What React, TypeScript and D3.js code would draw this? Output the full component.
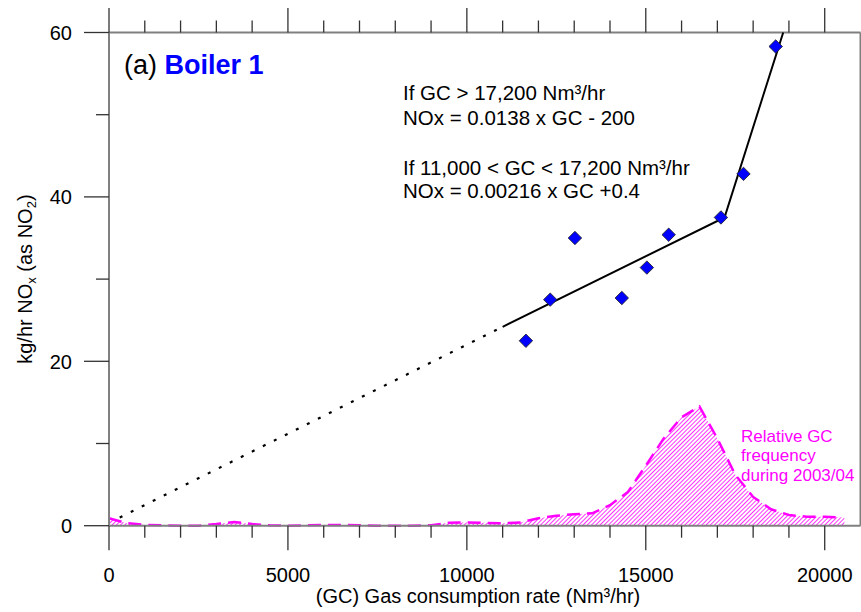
import React, { useEffect, useRef } from "react";
import * as d3 from "d3";

// measured points: gas consumption (Nm3/hr) vs NOx (kg/hr)
const gasRate = [11650, 12330, 13020, 14330, 15030, 15640, 17100, 17730, 18630];
const noxRate = [22.5, 27.5, 35.0, 27.7, 31.4, 35.4, 37.5, 42.8, 58.3];

// piecewise fit (solid) and its extrapolation (dotted)
const fitGc = [11000, 17200, 18840];
const fitNox = [24.2, 37.5, 60];
const extGc = [300, 11000];
const extNox = [1.0, 24.2];

// relative GC frequency during 2003/04
const freqGc = [
  0, 500, 1000, 1500, 2000, 2500, 3000, 3500, 4000, 4500, 5000, 5500, 6000, 6500,
  7000, 7500, 8000, 8500, 9000, 9500, 10000, 10500, 11000, 11500, 12000, 12500,
  13000, 13500, 14000, 14500, 15000, 15500, 16000, 16500, 17000, 17500, 18000,
  18500, 19000, 19500, 20000, 20500, 20550,
];
const freqVal = [
  0.9, 0.3, 0.1, 0.05, 0, 0, 0.2, 0.45, 0.2, 0.05, 0, 0.05, 0.1, 0.1, 0.05, 0, 0,
  0, 0.05, 0.35, 0.4, 0.35, 0.3, 0.4, 0.9, 1.2, 1.4, 1.5, 2.5, 4.1, 7.3, 10.6,
  13.2, 14.5, 10.6, 6.2, 3.5, 2.0, 1.3, 1.1, 1.1, 1.0, 1.0,
];

const xTicks = [0, 5000, 10000, 15000, 20000];
const yTicks = [0, 20, 40, 60];

const eqLines = [
  "If GC > 17,200 Nm\u00b3/hr",
  "NOx = 0.0138 x GC - 200",
  "If 11,000 < GC < 17,200 Nm\u00b3/hr",
  "NOx = 0.00216 x GC +0.4",
];
const freqLabel = ["Relative GC", "frequency", "during 2003/04"];

const FONT = "'Liberation Sans', Arial, Helvetica, sans-serif";

const App = () => {
  const ref = useRef<SVGSVGElement>(null);

  useEffect(() => {
    if (!ref.current) return;
    const svg = d3.select(ref.current);
    svg.selectAll("*").remove();

    const x = d3.scaleLinear().domain([0, 21000]).range([109, 860.5]);
    const y = d3.scaleLinear().domain([0, 60]).range([525.7, 32.5]);

    // hatch pattern for the frequency area
    const pat = svg
      .append("defs")
      .append("pattern")
      .attr("id", "hatch")
      .attr("patternUnits", "userSpaceOnUse")
      .attr("width", 3)
      .attr("height", 3)
      .attr("patternTransform", "rotate(45)");
    pat
      .append("line")
      .attr("x1", 0.5)
      .attr("y1", 0)
      .attr("x2", 0.5)
      .attr("y2", 3)
      .attr("stroke", "#ff00ff")
      .attr("stroke-width", 0.8);

    // === frequency area ===
    const freq: [number, number][] = freqGc.map((g, i) => [g, freqVal[i]]);
    svg
      .append("path")
      .datum(freq)
      .attr(
        "d",
        d3
          .area<[number, number]>()
          .x((d) => x(d[0]))
          .y0(y(0))
          .y1((d) => y(d[1]))
      )
      .attr("fill", "url(#hatch)");
    svg
      .append("path")
      .datum(freq.slice(0, -1))
      .attr(
        "d",
        d3
          .line<[number, number]>()
          .x((d) => x(d[0]))
          .y((d) => y(d[1]))
      )
      .attr("fill", "none")
      .attr("stroke", "#ff00ff")
      .attr("stroke-width", 2.5)
      .attr("stroke-dasharray", "13,7");

    // === axes frame ===
    const frame = svg.append("g").attr("stroke", "#808080").attr("stroke-width", 2);
    frame.append("line").attr("x1", x(0)).attr("x2", x(21000)).attr("y1", y(0)).attr("y2", y(0));
    frame.append("line").attr("x1", x(0)).attr("x2", x(21000)).attr("y1", y(60)).attr("y2", y(60));
    frame.append("line").attr("x1", x(0)).attr("x2", x(0)).attr("y1", y(60)).attr("y2", y(0));
    frame.append("line").attr("x1", x(21000)).attr("x2", x(21000)).attr("y1", y(60)).attr("y2", y(0));

    const ticks = svg.append("g").attr("stroke", "#333").attr("stroke-width", 1.3);
    d3.range(0, 20001, 1000).forEach((v) => {
      const major = v % 5000 === 0;
      ticks.append("line").attr("x1", x(v)).attr("x2", x(v)).attr("y1", y(0)).attr("y2", y(0) + (major ? 24.5 : 12));
      ticks.append("line").attr("x1", x(v)).attr("x2", x(v)).attr("y1", y(60)).attr("y2", y(60) - (major ? 24.5 : 12));
    });
    d3.range(0, 61, 10).forEach((v) => {
      const major = v % 20 === 0;
      ticks.append("line").attr("x1", x(0)).attr("x2", x(0) - (major ? 25 : 13)).attr("y1", y(v)).attr("y2", y(v));
    });

    svg
      .append("g")
      .selectAll("text")
      .data(xTicks)
      .join("text")
      .attr("x", (d) => x(d))
      .attr("y", 582)
      .attr("text-anchor", "middle")
      .style("font-size", "20px")
      .text((d) => d);

    svg
      .append("g")
      .selectAll("text")
      .data(yTicks)
      .join("text")
      .attr("x", 72)
      .attr("y", (d) => y(d))
      .attr("dy", "0.36em")
      .attr("text-anchor", "end")
      .style("font-size", "20px")
      .text((d) => d);

    svg
      .append("text")
      .attr("x", 478)
      .attr("y", 603)
      .attr("text-anchor", "middle")
      .style("font-size", "20px")
      .text("(GC) Gas consumption rate (Nm\u00b3/hr)");

    const yt = svg
      .append("text")
      .attr("transform", `translate(32,${(y(0) + y(60)) / 2}) rotate(-90)`)
      .attr("text-anchor", "middle")
      .style("font-size", "20px");
    yt.append("tspan").text("kg/hr NO");
    yt.append("tspan").attr("dy", 4).style("font-size", "13px").text("x");
    yt.append("tspan").attr("dy", -4).text(" (as NO");
    yt.append("tspan").attr("dy", 4).style("font-size", "13px").text("2");
    yt.append("tspan").attr("dy", -4).text(")");

    // === fit lines ===
    const ln = d3
      .line<[number, number]>()
      .x((d) => x(d[0]))
      .y((d) => y(d[1]));
    svg
      .append("path")
      .datum(extGc.map((g, i) => [g, extNox[i]] as [number, number]))
      .attr("d", ln)
      .attr("fill", "none")
      .attr("stroke", "#000")
      .attr("stroke-width", 2.2)
      .attr("stroke-dasharray", "3,9.3");
    svg
      .append("path")
      .datum(fitGc.map((g, i) => [g, fitNox[i]] as [number, number]))
      .attr("d", ln)
      .attr("fill", "none")
      .attr("stroke", "#000")
      .attr("stroke-width", 2);

    // === diamonds ===
    const sym = d3.symbol().type(d3.symbolSquare).size(90);
    svg
      .append("g")
      .selectAll("path")
      .data(gasRate.map((g, i) => [g, noxRate[i]]))
      .join("path")
      .attr("d", sym() as string)
      .attr("transform", (d) => `translate(${x(d[0])},${y(d[1])}) rotate(45)`)
      .attr("fill", "#0000ff")
      .attr("stroke", "#222")
      .attr("stroke-width", 0.8);

    // === annotations ===
    const title = svg.append("text").attr("x", 124).attr("y", 74).style("font-size", "27px");
    title.append("tspan").attr("fill", "#000").text("(a) ");
    title.append("tspan").attr("fill", "#0000ff").style("font-weight", "bold").text("Boiler 1");

    const eqY = [100, 124.5, 174.5, 198];
    svg
      .append("g")
      .selectAll("text")
      .data(eqLines)
      .join("text")
      .attr("x", 403)
      .attr("y", (d, i) => eqY[i])
      .style("font-size", "20.5px")
      .text((d) => d);

    svg
      .append("g")
      .selectAll("text")
      .data(freqLabel)
      .join("text")
      .attr("x", 741)
      .attr("y", (d, i) => 441.5 + i * 19.5)
      .attr("fill", "#ff00ff")
      .style("font-size", "17px")
      .text((d) => d);
  }, []);

  return (
    <svg
      ref={ref}
      width={861}
      height={612}
      style={{ position: "absolute", left: 0, top: 0, background: "#fff", fontFamily: FONT }}
    ></svg>
  );
};

export default App;
